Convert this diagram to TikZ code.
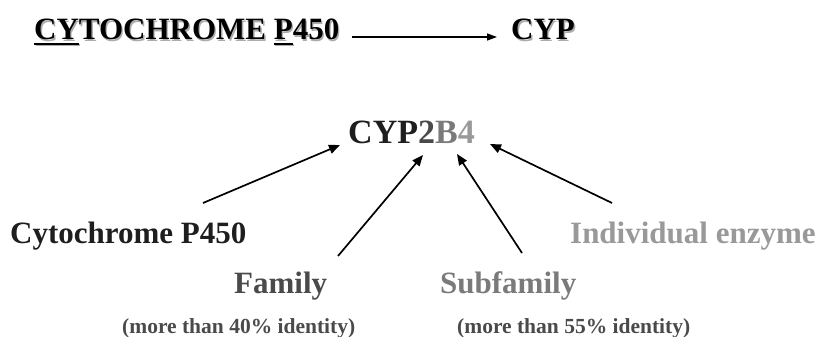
\documentclass[tikz,border=0pt]{standalone}
\usepackage{fontspec}
\setmainfont{Liberation Serif}
\usetikzlibrary{arrows.meta,calc}
\definecolor{ink}{HTML}{1E1E1E}
\definecolor{famc}{HTML}{4A4A4A}
\definecolor{subc}{HTML}{7A7A7A}
\definecolor{indc}{HTML}{999999}
\newsavebox{\ulbox}
\newcommand{\myul}[1]{\sbox{\ulbox}{#1}\rlap{\rule[-5pt]{\wd\ulbox}{2.2pt}}\usebox{\ulbox}}
\newcommand{\shadowtext}[1]{\rlap{\raisebox{-1.3pt}{\hspace{1.3pt}\textcolor{gray!65}{#1}}}#1}
\begin{document}
\begin{tikzpicture}[x=1pt,y=-1pt,
  lbl/.style={inner sep=0pt, anchor=base west, font=\fontsize{31}{31}\selectfont\bfseries},
  small/.style={inner sep=0pt, anchor=base west, font=\fontsize{21.5}{21.5}\selectfont\bfseries, text=famc},
  arr/.style={-{Triangle[length=11pt,width=9pt]}, line width=1.7pt, black}]
\useasboundingbox (0,0) rectangle (820,337);
\node[lbl] (title) at (34,40) {\shadowtext{\myul{CY}TOCHROME \myul{P}450}};
\node[lbl] (cyp) at (511,40) {\shadowtext{CYP}};
\draw[arr, line width=1.3pt, -{Triangle[length=10pt,width=7pt]}] ($(title.base east)+(12,-3)$) -- ($(cyp.base west)+(-14,-3)$);
\node[lbl, font=\fontsize{34}{34}\selectfont\bfseries] (cyp2b4) at (348,143) {\textcolor{ink}{CYP}\textcolor{famc}{2}\textcolor{subc}{B}\textcolor{indc}{4}};
\node[lbl, text=ink] (cyto) at (10,243) {Cytochrome P450};
\node[lbl, text=indc] (indiv) at (570,243) {Individual enzyme};
\node[lbl, text=famc] (fam) at (234,293) {Family};
\node[lbl, text=subc] (subfam) at (440,293) {Subfamily};
\node[small] (famid) at (122,333) {(more than 40\% identity)};
\node[small] (subid) at (457,333) {(more than 55\% identity)};
\coordinate (a1) at (203,203);
\coordinate (a2) at (338,256);
\coordinate (a3) at (522,253);
\coordinate (a4) at (612,203);
\coordinate (e1) at (340,145);
\coordinate (e2) at (423,155);
\coordinate (e3) at (457,154);
\coordinate (e4) at (490,144);
\draw[arr] (a1) -- (e1);
\draw[arr] (a2) -- (e2);
\draw[arr] (a3) -- (e3);
\draw[arr] (a4) -- (e4);
\end{tikzpicture}
\end{document}
